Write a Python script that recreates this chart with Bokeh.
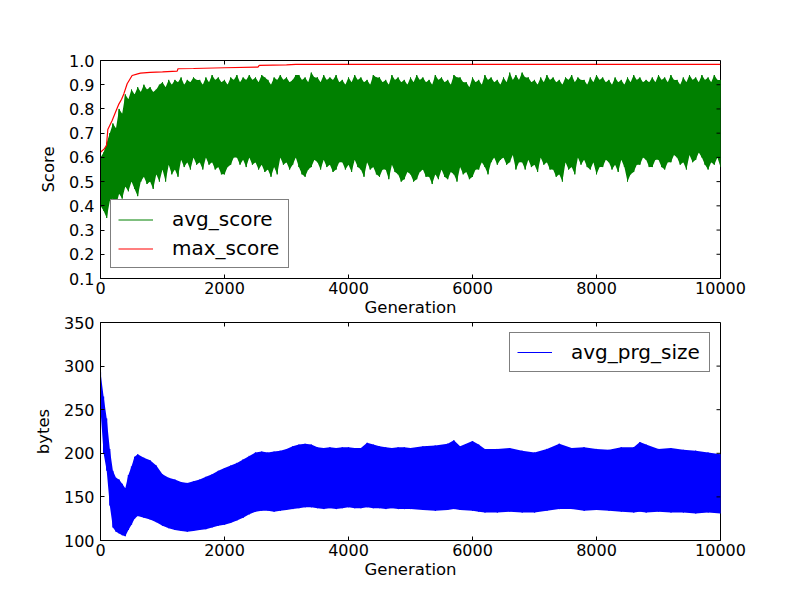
import math
from bokeh.plotting import figure
from bokeh.layouts import column
from bokeh.models import Range1d, FixedTicker, Legend, LegendItem, PrintfTickFormatter
from bokeh.embed import file_html
from bokeh.resources import INLINE

# ---------------- data ----------------
x_ticks = [0, 2000, 4000, 6000, 8000, 10000]
score_ticks = [0.1, 0.2, 0.3, 0.4, 0.5, 0.6, 0.7, 0.8, 0.9, 1.0]
bytes_ticks = [100, 150, 200, 250, 300, 350]

# avg_score: upper / lower extent of the oscillation, every 50 generations
score_gen = list(range(0, 10001, 50))
score_hi = [
    0.60, 0.62, 0.66, 0.70, 0.74, 0.72, 0.80, 0.78, 0.86, 0.84, 0.88, 0.86, 0.89, 0.87, 0.90, 0.88, 0.89, 0.87, 0.88, 0.90,
    0.91, 0.89, 0.92, 0.90, 0.92, 0.91, 0.93, 0.90, 0.92, 0.91, 0.93, 0.92, 0.92, 0.90, 0.93, 0.91, 0.94, 0.92, 0.93, 0.91,
    0.92, 0.90, 0.93, 0.92, 0.94, 0.91, 0.93, 0.92, 0.94, 0.92, 0.93, 0.91, 0.94, 0.93, 0.92, 0.90, 0.93, 0.92, 0.94, 0.92,
    0.93, 0.91, 0.92, 0.94, 0.94, 0.92, 0.93, 0.91, 0.95, 0.93, 0.93, 0.91, 0.94, 0.92, 0.93, 0.92, 0.94, 0.91, 0.92, 0.90,
    0.93, 0.91, 0.94, 0.92, 0.93, 0.91, 0.92, 0.90, 0.94, 0.93, 0.93, 0.91, 0.92, 0.90, 0.94, 0.92, 0.93, 0.91, 0.92, 0.90,
    0.93, 0.91, 0.94, 0.92, 0.93, 0.91, 0.92, 0.90, 0.94, 0.92, 0.93, 0.91, 0.92, 0.90, 0.94, 0.93, 0.93, 0.91, 0.91, 0.89,
    0.93, 0.91, 0.92, 0.90, 0.94, 0.92, 0.93, 0.91, 0.92, 0.90, 0.93, 0.91, 0.95, 0.92, 0.94, 0.92, 0.95, 0.93, 0.93, 0.91,
    0.92, 0.90, 0.93, 0.91, 0.94, 0.92, 0.93, 0.91, 0.92, 0.90, 0.93, 0.92, 0.94, 0.91, 0.93, 0.92, 0.92, 0.90, 0.93, 0.91,
    0.94, 0.92, 0.93, 0.91, 0.92, 0.90, 0.93, 0.91, 0.92, 0.90, 0.93, 0.91, 0.94, 0.92, 0.93, 0.91, 0.92, 0.91, 0.93, 0.91,
    0.94, 0.92, 0.93, 0.91, 0.94, 0.92, 0.92, 0.90, 0.93, 0.91, 0.94, 0.92, 0.93, 0.91, 0.94, 0.92, 0.93, 0.91, 0.94, 0.92,
    0.92]
score_lo = [
    0.40, 0.38, 0.35, 0.42, 0.43, 0.40, 0.45, 0.43, 0.48, 0.46, 0.50, 0.47, 0.44, 0.50, 0.52, 0.49, 0.50, 0.47, 0.53, 0.50,
    0.55, 0.50, 0.57, 0.53, 0.55, 0.52, 0.59, 0.56, 0.58, 0.55, 0.60, 0.57, 0.58, 0.55, 0.60, 0.57, 0.58, 0.55, 0.56, 0.53,
    0.53, 0.56, 0.57, 0.60, 0.60, 0.57, 0.59, 0.56, 0.60, 0.57, 0.58, 0.55, 0.57, 0.54, 0.55, 0.52, 0.56, 0.53, 0.60, 0.57,
    0.58, 0.55, 0.57, 0.60, 0.56, 0.53, 0.52, 0.55, 0.56, 0.59, 0.58, 0.55, 0.59, 0.56, 0.57, 0.54, 0.55, 0.58, 0.58, 0.55,
    0.57, 0.54, 0.59, 0.56, 0.55, 0.52, 0.58, 0.55, 0.56, 0.53, 0.52, 0.55, 0.55, 0.51, 0.57, 0.54, 0.53, 0.50, 0.51, 0.54,
    0.53, 0.50, 0.51, 0.54, 0.55, 0.52, 0.52, 0.49, 0.53, 0.51, 0.55, 0.52, 0.51, 0.54, 0.53, 0.50, 0.56, 0.53, 0.54, 0.51,
    0.52, 0.55, 0.55, 0.58, 0.56, 0.53, 0.58, 0.60, 0.57, 0.59, 0.60, 0.57, 0.58, 0.61, 0.55, 0.58, 0.58, 0.55, 0.59, 0.56,
    0.57, 0.54, 0.60, 0.57, 0.58, 0.55, 0.55, 0.52, 0.53, 0.50, 0.58, 0.55, 0.56, 0.53, 0.60, 0.57, 0.59, 0.56, 0.55, 0.58,
    0.53, 0.56, 0.56, 0.59, 0.58, 0.55, 0.57, 0.54, 0.59, 0.56, 0.50, 0.53, 0.54, 0.57, 0.57, 0.60, 0.59, 0.56, 0.56, 0.59,
    0.59, 0.56, 0.55, 0.58, 0.58, 0.61, 0.60, 0.57, 0.58, 0.55, 0.61, 0.58, 0.59, 0.62, 0.60, 0.57, 0.55, 0.58, 0.57, 0.60,
    0.56]

# max_score (step-like running maximum)
max_gen = [0, 60, 97, 118, 188, 240, 296, 340, 376, 430, 510, 600, 645, 800,
           1000, 1237, 1250, 1500, 2000, 2540, 2560, 3000, 3150, 10000]
max_val = [0.621, 0.635, 0.649, 0.715, 0.752, 0.785, 0.820, 0.840, 0.862, 0.904,
           0.938, 0.945, 0.948, 0.951, 0.953, 0.956, 0.966, 0.967, 0.970, 0.973,
           0.980, 0.982, 0.984, 0.984]

# avg_prg_size: upper / lower extent of the oscillation
prg_gen = [0, 50, 100, 150, 200, 250, 300, 350, 400, 450, 500, 550, 600, 700,
           800, 900, 1000, 1100, 1200, 1300, 1400, 1500, 1600, 1700, 1800,
           1900, 2000, 2100, 2200, 2300, 2400, 2500, 2600, 2700, 2800, 2900,
           3000, 3100, 3200, 3300, 3400, 3500, 3600, 3700, 3800, 3900, 4000,
           4100, 4200, 4300, 4400, 4500, 4600, 4700, 4800, 4900, 5000, 5200,
           5400, 5600, 5700, 5800, 6000, 6100, 6200, 6400, 6600, 6800, 7000,
           7200, 7400, 7600, 7800, 8000, 8200, 8400, 8600, 8700, 8800, 9000,
           9200, 9400, 9600, 9800, 10000]
prg_hi = [293, 265, 240, 205, 180, 172, 170, 165, 160, 175, 185, 196, 199, 195,
          192, 186, 176, 172, 170, 167, 166, 168, 170, 173, 176,
          180, 183, 186, 189, 193, 197, 201, 202, 201, 202, 203,
          205, 208, 210, 211, 210, 207, 206, 207, 206, 207, 207,
          206, 206, 212, 210, 208, 207, 206, 207, 207, 206, 208,
          209, 211, 215, 208, 214, 210, 205, 205, 206, 203, 201,
          205, 211, 206, 207, 205, 204, 207, 207, 213, 210, 205,
          206, 204, 203, 201, 199]
prg_lo = [250, 200, 180, 140, 115, 110, 108, 106, 105, 112, 118, 125, 128, 126,
          124, 121, 117, 114, 112, 111, 110, 111, 112, 113, 115,
          117, 118, 120, 123, 126, 130, 133, 134, 134, 133, 134,
          135, 136, 137, 138, 138, 137, 136, 137, 136, 137, 138,
          137, 137, 138, 137, 137, 136, 137, 136, 136, 136, 135,
          134, 135, 136, 135, 134, 133, 132, 132, 133, 132, 132,
          134, 136, 136, 134, 135, 134, 133, 132, 133, 132, 133,
          132, 132, 131, 132, 131]

GREEN = "#008000"
RED = "#ff0000"
BLUE = "#0000ff"
FONT = "DejaVu Sans"
X_MIN, X_MAX = x_ticks[0], x_ticks[-1]


def zigzag(gens, hi, lo):
    xs, ys = [], []
    for g, h, l in zip(gens, hi, lo):
        xs += [g, g]
        ys += [h, l]
    return xs, ys


def style(p, yticks, yfmt=None):
    p.xgrid.visible = False
    p.ygrid.visible = False
    p.outline_line_color = "black"
    p.outline_line_width = 1
    p.background_fill_color = "white"
    p.xaxis.ticker = FixedTicker(ticks=x_ticks)
    p.yaxis.ticker = FixedTicker(ticks=yticks)
    if yfmt is not None:
        p.yaxis.formatter = PrintfTickFormatter(format=yfmt)
    for ax in (p.xaxis[0], p.yaxis[0]):
        ax.major_tick_in = 4
        ax.major_tick_out = 0
        ax.minor_tick_line_color = None
        ax.major_label_text_font = FONT
        ax.major_label_text_font_size = "16px"
        ax.major_label_text_color = "black"
        ax.axis_label_text_font = FONT
        ax.axis_label_text_font_size = "16.5px"
        ax.axis_label_text_font_style = "normal"
        ax.axis_label_text_color = "black"
        ax.axis_line_color = "black"
        ax.major_tick_line_color = "black"
    p.xaxis.major_label_standoff = 3
    p.xaxis.axis_label_standoff = 1
    p.yaxis.major_label_standoff = 6
    p.yaxis.axis_label_standoff = 8
    # mirrored inward ticks on the right and top edges of the frame
    y_top = p.y_range.end
    p.ray(x=[X_MAX] * len(yticks), y=yticks, length=4, length_units="screen",
          angle=math.pi, line_color="black", line_width=1)
    p.ray(x=x_ticks, y=[y_top] * len(x_ticks), length=4, length_units="screen",
          angle=-math.pi / 2, line_color="black", line_width=1)


# ---------------- top: score ----------------
p1 = figure(width=800, height=322, output_backend="svg", toolbar_location=None,
            x_range=Range1d(X_MIN, X_MAX), y_range=Range1d(0.1, 1.0),
            min_border_left=100, min_border_right=80, min_border_top=60, min_border_bottom=44)
p1.border_fill_color = "white"
p1.xaxis.axis_label = "Generation"
p1.yaxis.axis_label = "Score"

p1.varea(x=score_gen, y1=score_lo, y2=score_hi, fill_color=GREEN, fill_alpha=1.0)
zx, zy = zigzag(score_gen, score_hi, score_lo)
r_avg = p1.line(zx, zy, line_color=GREEN, line_width=1)
r_max = p1.line(max_gen, max_val, line_color=RED, line_width=1.2)
style(p1, score_ticks, "%.1f")

leg1 = Legend(items=[LegendItem(label="avg_score", renderers=[r_avg]),
                     LegendItem(label="max_score", renderers=[r_max])],
              location="bottom_left", margin=10, padding=7, spacing=5,
              glyph_width=35, glyph_height=21, label_height=21, label_standoff=19,
              label_width=109,
              label_text_font=FONT, label_text_font_size="20px", label_text_color="black",
              border_line_color="black", border_line_width=1,
              background_fill_alpha=1.0)
p1.add_layout(leg1, "center")

# ---------------- bottom: program size ----------------
# pulled up by 12px so that its top tick label has room; its border is transparent
p2 = figure(width=800, height=290, output_backend="svg", toolbar_location=None,
            x_range=Range1d(X_MIN, X_MAX), y_range=Range1d(100, 350),
            min_border_left=100, min_border_right=80, min_border_top=12, min_border_bottom=60,
            styles={"margin-top": "-12px"})
p2.border_fill_alpha = 0.0
p2.xaxis.axis_label = "Generation"
p2.yaxis.axis_label = "bytes"

p2.varea(x=prg_gen, y1=prg_lo, y2=prg_hi, fill_color=BLUE, fill_alpha=1.0)
bx, by = zigzag(prg_gen, prg_hi, prg_lo)
r_prg = p2.line(bx, by, line_color=BLUE, line_width=1.2)
style(p2, bytes_ticks)

leg2 = Legend(items=[LegendItem(label="avg_prg_size", renderers=[r_prg])],
              location="top_right", margin=10, padding=7, spacing=0,
              glyph_width=35, glyph_height=22, label_height=22, label_standoff=19,
              label_width=131,
              label_text_font=FONT, label_text_font_size="20px", label_text_color="black",
              border_line_color="black", border_line_width=1,
              background_fill_alpha=1.0)
p2.add_layout(leg2, "center")

layout = column(p1, p2, spacing=0)
open("out.html", "w").write(file_html(layout, INLINE))
